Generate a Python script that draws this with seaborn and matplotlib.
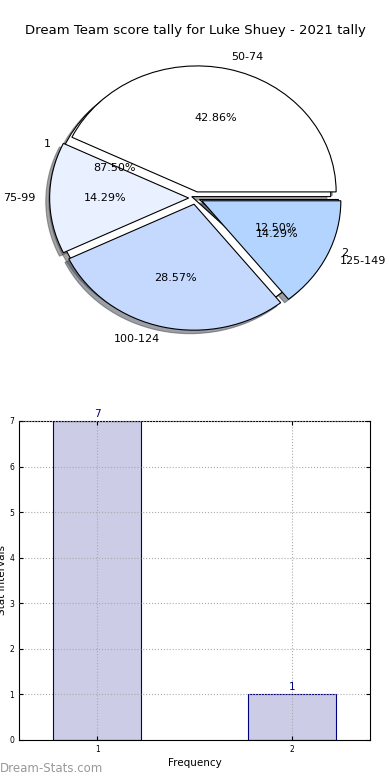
import matplotlib
matplotlib.use("Agg")
import matplotlib.pyplot as plt
import seaborn as sns

# pie data
ranges = ["50-74", "75-99", "100-124", "125-149"]
range_counts = [3, 1, 2, 1]
range_colors = ["#ffffff", "#e9f0ff", "#c5d9ff", "#b3d4ff"]

freq_labels = ["1", "2"]
freq_counts = [7, 1]
freq_colors = ["#ffffff", "#b3d4ff"]

# bar data
bar_x = [1, 2]
bar_y = [7, 1]

plt.rcParams["font.family"] = ["DejaVu Sans"]

fig = plt.figure(figsize=(3.9, 7.8), dpi=100)

# pie on top
ax1 = fig.add_axes([0.056, 0.5442, 0.891, 0.4038])
# second pie goes underneath, only its labels and edges stay visible
ax1.pie(freq_counts, labels=freq_labels, autopct="%.2f%%", startangle=0,
        colors=freq_colors, explode=[0.03, 0.03], shadow=True,
        wedgeprops={"edgecolor": "black", "linewidth": 0.8},
        textprops={"fontsize": 8})
ax1.pie(range_counts, labels=ranges, autopct="%.2f%%", startangle=0,
        colors=range_colors, explode=[0.05] * 4, shadow=True,
        wedgeprops={"edgecolor": "black", "linewidth": 0.8},
        textprops={"fontsize": 8})
ax1.set_aspect("auto")
ax1.set_xlim(-1.25, 1.25)
ax1.set_ylim(-1.25, 1.25)
fig.text(0.5, 0.961, "Dream Team score tally for Luke Shuey - 2021 tally",
         ha="center", va="center", fontsize=9.5)

# bar chart below
ax2 = fig.add_axes([0.049, 0.0513, 0.9, 0.409])
sns.barplot(x=bar_x, y=bar_y, native_scale=True, width=0.45,
            color="#ccccE6", edgecolor="#000080", linewidth=0.8,
            saturation=1, ax=ax2)
for x, y in zip(bar_x, bar_y):
    ax2.text(x, y + 0.05, str(y), ha="center", va="bottom",
             color="#000080", fontsize=7.5)
ax2.set_xlim(0.6, 2.4)
ax2.set_ylim(0, 7)
ax2.set_xticks(bar_x)
ax2.set_yticks(range(0, 8))
ax2.tick_params(labelsize=5.5, direction="in", top=True, right=True, length=3)
ax2.grid(True, linestyle=":", color="#aaaaaa", linewidth=0.8)
ax2.set_axisbelow(False)
ax2.set_xlabel("Frequency", fontsize=7.5, labelpad=3)
ax2.set_ylabel("Stat Intervals", fontsize=7.5, labelpad=2)

fig.text(0.0, 0.006, "Dream-Stats.com", color="#999999", fontsize=8.5,
         ha="left", va="bottom")

fig.savefig("out.png", dpi=100)
